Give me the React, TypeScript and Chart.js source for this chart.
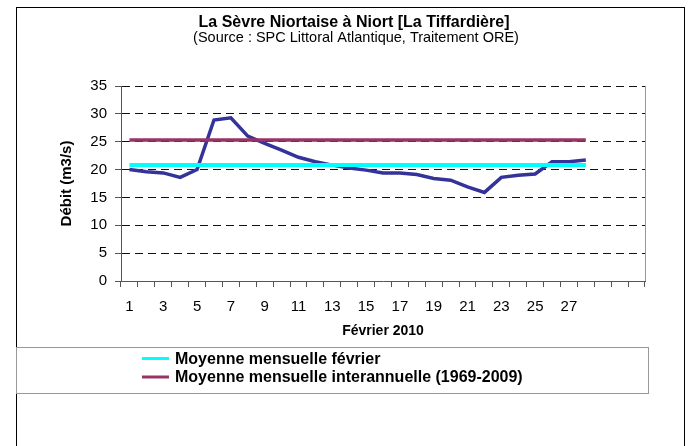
import React, { useEffect, useRef } from 'react';
import { Chart, registerables } from 'chart.js';

Chart.register(...registerables);

const TITLE = 'La Sèvre Niortaise à Niort [La Tiffardière]';
const SUBTITLE = '(Source : SPC Littoral Atlantique, Traitement ORE)';
const X_TITLE = 'Février 2010';
const Y_TITLE = 'Débit (m3/s)';

const days = [
  '1', '2', '3', '4', '5', '6', '7', '8', '9', '10', '11', '12', '13', '14',
  '15', '16', '17', '18', '19', '20', '21', '22', '23', '24', '25', '26', '27', '28',
  '', '', '',
];

const debit = [
  20.0, 19.6, 19.4, 18.6, 20.0, 28.9, 29.3, 26.0, 24.7, 23.5, 22.2, 21.4, 20.8, 20.3,
  19.9, 19.4, 19.4, 19.1, 18.4, 18.1, 16.9, 15.9, 18.6, 19.0, 19.2, 21.4, 21.4, 21.7,
];

const moyenneFevrier = [
  20.8, 20.8, 20.8, 20.8, 20.8, 20.8, 20.8, 20.8, 20.8, 20.8, 20.8, 20.8, 20.8, 20.8,
  20.8, 20.8, 20.8, 20.8, 20.8, 20.8, 20.8, 20.8, 20.8, 20.8, 20.8, 20.8, 20.8, 20.8,
];

const moyenneInterannuelle = [
  25.3, 25.3, 25.3, 25.3, 25.3, 25.3, 25.3, 25.3, 25.3, 25.3, 25.3, 25.3, 25.3, 25.3,
  25.3, 25.3, 25.3, 25.3, 25.3, 25.3, 25.3, 25.3, 25.3, 25.3, 25.3, 25.3, 25.3, 25.3,
];

const legendLabels = [
  'Moyenne mensuelle février',
  'Moyenne mensuelle interannuelle (1969-2009)',
];

const yMin = 0;
const yMax = 35;
const yStep = 5;

const FONT = '"Liberation Sans", Arial, sans-serif';
const COL_MAIN = '#333399';
const COL_CYAN = '#00FFFF';
const COL_PURPLE = '#993366';

const decorPlugin = {
  id: 'decor',
  beforeDraw(chart: any) {
    const { ctx } = chart;
    ctx.save();
    ctx.fillStyle = '#ffffff';
    ctx.fillRect(0, 0, chart.width, chart.height);
    ctx.restore();
  },
  afterDraw(chart: any) {
    const { ctx, chartArea } = chart;
    ctx.save();
    // outer frame
    ctx.strokeStyle = '#000000';
    ctx.lineWidth = 1;
    ctx.strokeRect(16.5, 7.5, 668, 460);

    // right border of plot area
    ctx.strokeStyle = '#999999';
    ctx.beginPath();
    ctx.moveTo(Math.round(chartArea.right) + 0.5, chartArea.top);
    ctx.lineTo(Math.round(chartArea.right) + 0.5, chartArea.bottom);
    ctx.stroke();

    // titles
    ctx.fillStyle = '#000000';
    ctx.textAlign = 'center';
    ctx.textBaseline = 'middle';
    ctx.font = `bold 16px ${FONT}`;
    ctx.fillText(TITLE, 354, 23);
    ctx.font = `14.5px ${FONT}`;
    ctx.fillText(SUBTITLE, 356, 37.5);

    // legend box
    ctx.strokeStyle = '#999999';
    ctx.lineWidth = 1;
    ctx.strokeRect(16.5, 347.5, 632, 46);
    const cols = [COL_CYAN, COL_PURPLE];
    const ys = [358.5, 377];
    ctx.textAlign = 'left';
    ctx.font = `bold 16px ${FONT}`;
    for (let i = 0; i < legendLabels.length; i++) {
      ctx.strokeStyle = cols[i];
      ctx.lineWidth = 3;
      ctx.beginPath();
      ctx.moveTo(142, ys[i]);
      ctx.lineTo(169, ys[i]);
      ctx.stroke();
      ctx.fillStyle = '#000000';
      ctx.fillText(legendLabels[i], 175, ys[i] + 1);
    }
    ctx.restore();
  },
};

export default function App() {
  const ref = useRef<HTMLCanvasElement | null>(null);

  useEffect(() => {
    if (!ref.current) return;
    const chart = new Chart(ref.current, {
      type: 'line',
      data: {
        labels: days,
        datasets: [
          {
            label: 'Débit',
            data: debit,
            borderColor: COL_MAIN,
            backgroundColor: COL_MAIN,
            borderWidth: 3.5,
            pointRadius: 0,
            tension: 0,
            order: 3,
          },
          {
            label: legendLabels[0],
            data: moyenneFevrier,
            borderColor: COL_CYAN,
            backgroundColor: COL_CYAN,
            borderWidth: 4,
            pointRadius: 0,
            order: 2,
          },
          {
            label: legendLabels[1],
            data: moyenneInterannuelle,
            borderColor: COL_PURPLE,
            backgroundColor: COL_PURPLE,
            borderWidth: 3.5,
            pointRadius: 0,
            order: 1,
          },
        ],
      },
      options: {
        responsive: false,
        animation: false,
        events: [],
        layout: { padding: { left: 58, right: 45, top: 86, bottom: 106 } },
        plugins: {
          legend: { display: false },
          tooltip: { enabled: false },
          title: { display: false },
        },
        scales: {
          x: {
            type: 'category',
            offset: true,
            grid: {
              offset: true,
              drawOnChartArea: false,
              drawTicks: true,
              tickLength: 6,
              tickColor: '#555555',
              tickBorderDash: [],
            },
            border: { color: '#555555', width: 1, dash: [] },
            ticks: {
              autoSkip: false,
              maxRotation: 0,
              minRotation: 0,
              padding: 11,
              color: '#000000',
              font: { family: FONT, size: 15 },
              callback: (_v: any, i: number) => (i % 2 === 0 ? days[i] : ''),
            },
            title: {
              display: true,
              text: X_TITLE,
              color: '#000000',
              font: { family: FONT, size: 14, weight: 'bold' },
              padding: 0,
            },
            afterFit: (scale: any) => {
              scale.height = 59;
            },
          },
          y: {
            min: yMin,
            max: yMax,
            grid: {
              color: (c: any) => (c.tick && c.tick.value === 0 ? 'rgba(0,0,0,0)' : '#111111'),
              borderDash: [8, 5],
              drawTicks: true,
              tickLength: 6,
              tickColor: '#555555',
              tickBorderDash: [],
            },
            border: { color: '#555555', width: 1, dash: [8, 5] },
            ticks: {
              stepSize: yStep,
              padding: 8,
              color: '#000000',
              font: { family: FONT, size: 15 },
            },
            title: {
              display: true,
              text: Y_TITLE,
              color: '#000000',
              font: { family: FONT, size: 15, weight: 'bold' },
              padding: 0,
            },
            afterFit: (scale: any) => {
              scale.width = 63;
            },
          },
        },
      },
      plugins: [decorPlugin],
    });
    return () => chart.destroy();
  }, []);

  return (
    <div style={{ position: 'absolute', left: 0, top: 0, width: 690, height: 446, background: '#fff' }}>
      <canvas ref={ref} width={690} height={446} style={{ width: 690, height: 446, display: 'block' }} />
    </div>
  );
}
